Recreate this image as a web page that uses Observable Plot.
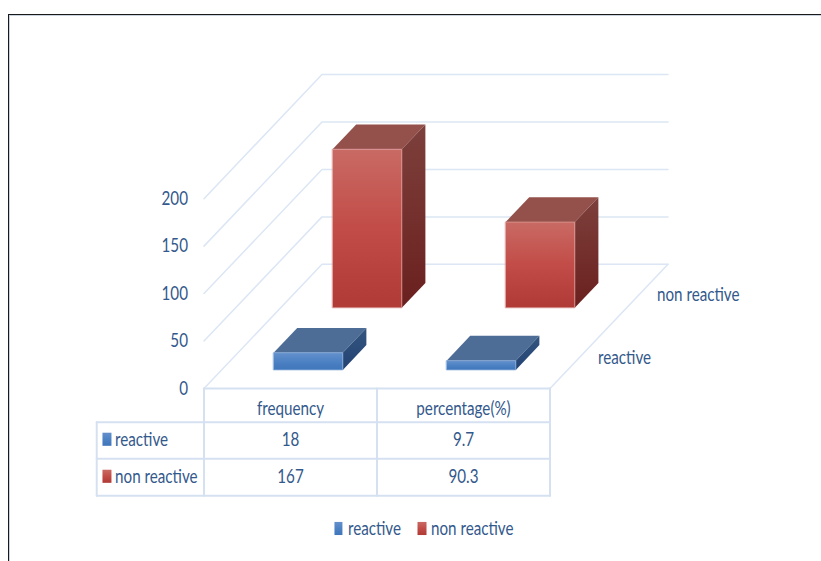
<!DOCTYPE html>
<html>
<head>
<meta charset="utf-8">
<script src="https://cdn.jsdelivr.net/npm/d3@7"></script>
<script src="https://cdn.jsdelivr.net/npm/@observablehq/plot@0.6"></script>
<style>
  html, body { margin: 0; padding: 0; background: #fff; overflow: hidden; }
  #chart { position: relative; width: 821px; height: 561px; }
  #chart svg { display: block; position: absolute; left: 0; top: 0; }
  #frame { position: absolute; left: 8px; top: 14px; right: 0; bottom: 0;
           border-left: 1px solid #1a1a1a; border-top: 1px solid #1a1a1a;
           box-shadow: inset 1px 1px 0 #c9d3df; pointer-events: none; }
</style>
</head>
<body>
<div id="chart"><div id="frame"></div></div>
<script>
// Chart values
const measures = ["frequency", "percentage(%)"];
const seriesNames = ["reactive", "non reactive"];
const reactive = [18, 9.7];
const nonReactive = [167, 90.3];
const seriesValues = [reactive, nonReactive];
const valueTicks = [0, 50, 100, 150, 200];

// Oblique projection: one step back in depth shifts right and up
const depthX = 0.341;
const depthY = 65.4;
const projX = (col, row) => col + row * depthX;
const projY = (row, value) => value + row * depthY;
const P = (col, row, value) => ({x: projX(col, row), y: projY(row, value)});

// Bar footprint as a share of its category and depth slot
const barShare = 0.4;

// Data table layout, in scale units below the floor
const tableLines = [0, -35.5, -74, -113];
const tableLeft = -0.62;
const headerY = -22;
const rowY = [-54, -93];
const legendY = -148;
const keyColumn = [-0.584, -0.532, -0.514];
const legendColumns = [[0.757, 0.803, 0.832], [1.237, 1.289, 1.312]];
const keyHalfHeight = 6.9;

const colours = ["blue", "red"];
const ink = "#33598c";
const gridColour = "#dce6f4";
const tableColour = "#d5e1f1";
const edge = {blue: "#86abd8", red: "#dc9a96"};

// Box faces, rear row first so nearer bars overlap farther ones
const faces = [];
[1, 0].forEach(row => {
  measures.forEach((_, col) => {
    const v = seriesValues[row][col];
    const x0 = col + (1 - barShare) / 2, x1 = x0 + barShare;
    const r0 = row + (1 - barShare) / 2, r1 = r0 + barShare;
    faces.push({kind: "top", c: colours[row], pts: [P(x0, r0, v), P(x1, r0, v), P(x1, r1, v), P(x0, r1, v)]});
    faces.push({kind: "side", c: colours[row], pts: [P(x1, r0, 0), P(x1, r1, 0), P(x1, r1, v), P(x1, r0, v)]});
    faces.push({kind: "front", c: colours[row], pts: [P(x0, r0, 0), P(x1, r0, 0), P(x1, r0, v), P(x0, r0, v)]});
  });
});

// Gradients used by the box faces and the legend keys
function gradientDefs() {
  const stops = {
    "blue-front": [[0, "#6490cc"], [0.5, "#4d82c4"], [1, "#3f76ba"]],
    "blue-side": [[0, "#34557f"], [1, "#234273"]],
    "red-front": [[0, "#c96a64"], [0.5, "#c24c47"], [1, "#af3a36"]],
    "red-side": [[0, "#7d403c"], [1, "#6a201e"]]
  };
  const svg = d3.create("svg:g");
  const defs = svg.append("defs");
  for (const id in stops) {
    const g = defs.append("linearGradient").attr("id", id)
      .attr("x1", 0).attr("y1", 0).attr("x2", 0).attr("y2", 1);
    stops[id].forEach(([o, c]) => g.append("stop").attr("offset", o).attr("stop-color", c));
  }
  return svg.node();
}

const topFill = {blue: "#4e6d96", red: "#94504b"};
const faceFill = f => f.kind === "top" ? topFill[f.c] : `url(#${f.c}-${f.kind})`;

const faceMarks = faces.map(f =>
  Plot.line(f.pts, {
    x: "x", y: "y", curve: "linear-closed",
    fill: faceFill(f),
    stroke: f.kind === "front" ? edge[f.c] : "none",
    strokeWidth: 1, strokeOpacity: 0.8
  })
);

// Back wall, side wall and floor lines
const wallLines = valueTicks.map(v => [P(0, 0, v), P(0, 2, v), P(2, 2, v)]);
const floorEdge = [P(2, 0, 0), P(2, 2, 0)];

// Table grid
const colEdges = [0, 1, 2];
const tableH = tableLines.slice(1).map(y => [{x: tableLeft, y}, {x: 2, y}]);
const tableTop = [{x: 0, y: 0}, {x: 2, y: 0}];
const tableV = colEdges.map(x => [{x, y: tableLines[0]}, {x, y: tableLines[3]}]);
const tableOuter = [{x: tableLeft, y: tableLines[1]}, {x: tableLeft, y: tableLines[3]}];

const text = (data, opts) => Plot.text(data, {
  fill: ink, fontSize: 19, fontFamily: "Lato, sans-serif",
  lineAnchor: "middle", ...opts
});

const keys = seriesNames.map((name, i) => ({
  name, fill: `url(#${colours[i]}-front)`, y: rowY[i],
  lx: legendColumns[i]
}));

const plot = Plot.plot({
  width: 821, height: 561,
  marginTop: 0, marginRight: 0, marginBottom: 0, marginLeft: 0,
  x: {type: "linear", domain: [0, projX(2, 2)], range: [203.5, 667.5], axis: null},
  y: {type: "linear", domain: [0, projY(2, 200)], range: [388, 74], axis: null},
  marks: [
    gradientDefs,
    ...wallLines.map(l => Plot.line(l, {x: "x", y: "y", stroke: gridColour, strokeWidth: 1.5})),
    Plot.line(floorEdge, {x: "x", y: "y", stroke: gridColour, strokeWidth: 1.5}),
    ...faceMarks,

    // Value axis and depth axis labels
    text(valueTicks, {x: () => 0, y: d => d, text: d => String(d), textAnchor: "end", dx: -16}),
    text(seriesNames, {x: (_, i) => projX(2, i + 0.5), y: (_, i) => projY(i + 0.5, 0), text: d => d, textAnchor: "start", dx: 18.5}),

    // Data table
    Plot.line(tableTop, {x: "x", y: "y", stroke: tableColour, strokeWidth: 2}),
    ...tableH.map(l => Plot.line(l, {x: "x", y: "y", stroke: tableColour, strokeWidth: 2})),
    ...tableV.map(l => Plot.line(l, {x: "x", y: "y", stroke: tableColour, strokeWidth: 2})),
    Plot.line(tableOuter, {x: "x", y: "y", stroke: tableColour, strokeWidth: 2}),
    text(measures, {x: (_, i) => i + 0.5, y: () => headerY, text: d => d, textAnchor: "middle"}),
    ...seriesValues.map((vals, r) =>
      text(vals, {x: (_, i) => i + 0.5, y: () => rowY[r], text: d => String(d), textAnchor: "middle"})
    ),
    Plot.rect(keys, {
      x1: () => keyColumn[0], x2: () => keyColumn[1],
      y1: d => d.y - keyHalfHeight, y2: d => d.y + keyHalfHeight,
      fill: d => d.fill
    }),
    text(keys, {x: () => keyColumn[2], y: d => d.y, text: "name", textAnchor: "start"}),

    // Legend
    Plot.rect(keys, {
      x1: d => d.lx[0], x2: d => d.lx[1],
      y1: () => legendY - keyHalfHeight, y2: () => legendY + keyHalfHeight,
      fill: d => d.fill
    }),
    text(keys, {x: d => d.lx[2], y: () => legendY, text: "name", textAnchor: "start"})
  ]
});

// Condense the lettering horizontally about each label's anchor point
const condense = 0.8;
plot.querySelectorAll("text").forEach(t => {
  const base = t.getAttribute("transform") || "";
  t.setAttribute("transform", `${base} scale(${condense},1)`);
});
document.getElementById("chart").prepend(plot);
</script>
</body>
</html>
